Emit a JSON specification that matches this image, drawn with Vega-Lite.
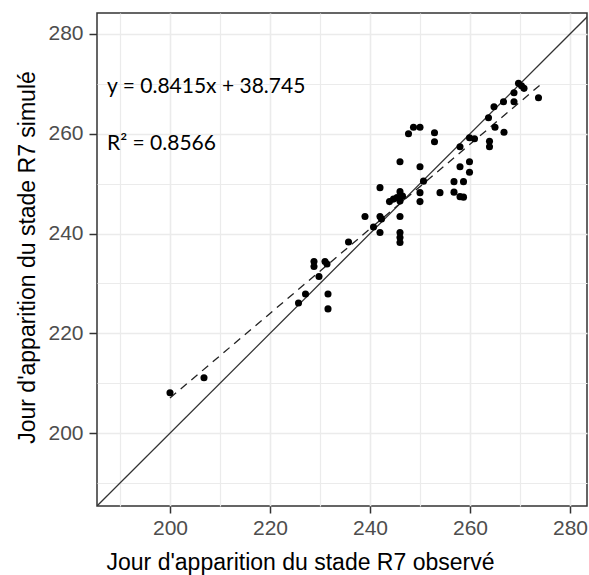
{
  "$schema": "https://vega.github.io/schema/vega-lite/v6.json",
  "width": 490,
  "height": 493,
  "autosize": {"type": "none"},
  "padding": {"left": 97, "top": 13, "right": 2, "bottom": 69},
  "background": "white",
  "config": {
    "view": {"stroke": "#333333", "strokeWidth": 1.5},
    "axis": {
      "domain": false,
      "grid": true,
      "gridColor": "#ebebeb",
      "gridWidth": {"condition": {"test": "datum.value % 20 == 0", "value": 1.6}, "value": 1.2},
      "tickColor": "#333333",
      "tickSize": 8,
      "tickWidth": 1.5,
      "tickOpacity": {"condition": {"test": "datum.value % 20 == 0", "value": 1}, "value": 0},
      "labelColor": "#4d4d4d",
      "labelFont": "Liberation Sans",
      "labelFontSize": 21,
      "labelPadding": 5,
      "titleFont": "Liberation Sans",
      "titleFontWeight": "normal",
      "titleColor": "#000000"
    }
  },
  "datasets": {
    "points": [
      {"x": 200, "y": 208.1}, {"x": 206.8, "y": 211.1}, {"x": 225.7, "y": 226.1}, {"x": 227.1, "y": 227.9},
      {"x": 229.8, "y": 231.4}, {"x": 231.6, "y": 227.9}, {"x": 231.6, "y": 224.9}, {"x": 228.8, "y": 234.4},
      {"x": 228.8, "y": 233.4}, {"x": 231, "y": 234.4}, {"x": 231.4, "y": 233.9}, {"x": 235.7, "y": 238.3},
      {"x": 239, "y": 243.4}, {"x": 240.7, "y": 241.3}, {"x": 242, "y": 240.2}, {"x": 242, "y": 243.4},
      {"x": 242.3, "y": 242.9}, {"x": 242, "y": 249.2}, {"x": 246, "y": 243.4}, {"x": 246, "y": 240.2},
      {"x": 246, "y": 239.2}, {"x": 246, "y": 238.2}, {"x": 243.9, "y": 246.4}, {"x": 244.7, "y": 246.9},
      {"x": 245.4, "y": 247.2}, {"x": 246, "y": 248.4}, {"x": 246.5, "y": 247.5}, {"x": 246, "y": 246.5},
      {"x": 250, "y": 248.2}, {"x": 250, "y": 246.4}, {"x": 250.7, "y": 250.5}, {"x": 254, "y": 248.2},
      {"x": 246, "y": 254.4}, {"x": 250, "y": 253.4}, {"x": 247.7, "y": 260.0}, {"x": 248.7, "y": 261.3},
      {"x": 250, "y": 261.3}, {"x": 252.9, "y": 260.2}, {"x": 252.9, "y": 258.4}, {"x": 256.8, "y": 250.4},
      {"x": 258.7, "y": 250.4}, {"x": 256.8, "y": 248.3}, {"x": 258, "y": 247.4}, {"x": 258.7, "y": 247.3},
      {"x": 258, "y": 253.4}, {"x": 259.9, "y": 254.4}, {"x": 259.9, "y": 252.3}, {"x": 258, "y": 257.4},
      {"x": 259.9, "y": 259.2}, {"x": 260.9, "y": 259.0}, {"x": 263.9, "y": 258.5}, {"x": 263.9, "y": 257.4},
      {"x": 263.7, "y": 263.2}, {"x": 265, "y": 261.3}, {"x": 266.8, "y": 260.3}, {"x": 264.8, "y": 265.4},
      {"x": 266.7, "y": 266.4}, {"x": 268.8, "y": 266.4}, {"x": 268.8, "y": 268.2}, {"x": 269.7, "y": 270.1},
      {"x": 270.3, "y": 269.6}, {"x": 270.8, "y": 269.1}, {"x": 273.7, "y": 267.2}
    ],
    "diag": [{"x": 180, "y": 180}, {"x": 290, "y": 290}],
    "notes": [
      {"x": 187.4, "y": 269.4, "label": "y = 0.8415x + 38.745"},
      {"x": 187.4, "y": 258.0, "label": "R² = 0.8566"}
    ]
  },
  "encoding": {
    "x": {
      "field": "x", "type": "quantitative",
      "scale": {"domain": [185.4, 283.4], "nice": false, "zero": false},
      "axis": {
        "title": "Jour d'apparition du stade R7 observé",
        "values": [190, 200, 210, 220, 230, 240, 250, 260, 270, 280],
        "labelExpr": "datum.value % 20 == 0 ? datum.label : ''",
        "tickSize": 7,
        "labelPadding": 4,
        "titleFontSize": 23,
        "titleX": 203, "titleY": 56, "titleBaseline": "middle", "titleAlign": "center"
      }
    },
    "y": {
      "field": "y", "type": "quantitative",
      "scale": {"domain": [185.4, 284.2], "nice": false, "zero": false},
      "axis": {
        "title": "Jour d'apparition du stade R7 simulé",
        "values": [190, 200, 210, 220, 230, 240, 250, 260, 270, 280],
        "labelExpr": "datum.value % 20 == 0 ? datum.label : ''",
        "labelPadding": 6,
        "titleFontSize": 23,
        "titleX": -70, "titleY": 244, "titleBaseline": "middle", "titleAlign": "center"
      }
    }
  },
  "layer": [
    {
      "data": {"name": "diag"},
      "mark": {"type": "line", "color": "#333333", "strokeWidth": 1.3, "clip": true}
    },
    {
      "data": {"name": "points"},
      "transform": [{"regression": "y", "on": "x", "extent": [200, 274]}],
      "mark": {"type": "line", "color": "#222222", "strokeWidth": 1.3, "strokeDash": [8, 6]}
    },
    {
      "data": {"name": "points"},
      "mark": {"type": "circle", "size": 50, "color": "#000000", "opacity": 1}
    },
    {
      "data": {"name": "notes"},
      "mark": {"type": "text", "align": "left", "baseline": "middle", "font": "Lato", "fontSize": 21, "color": "#000000"},
      "encoding": {"text": {"field": "label"}}
    }
  ]
}
